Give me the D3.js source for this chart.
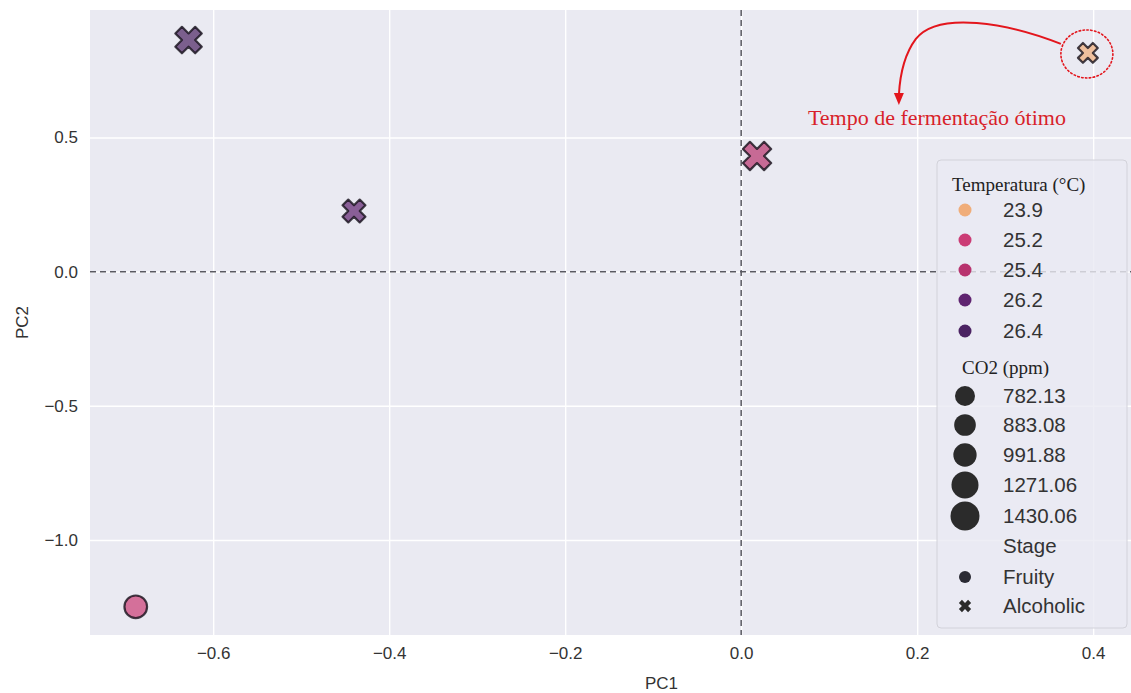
<!DOCTYPE html>
<html>
<head>
<meta charset="utf-8">
<script src="https://cdn.jsdelivr.net/npm/d3@7"></script>
<style>
  html, body { margin: 0; padding: 0; background: #ffffff; }
  svg { display: block; }
</style>
</head>
<body>
<svg id="chart" width="1131" height="693"></svg>
<script>
// PCA scores of the fermentation samples
const pc1 = [-0.628, -0.440, 0.018, 0.394, -0.688];
const pc2 = [0.863, 0.226, 0.431, 0.815, -1.249];
const temperature = [26.4, 26.2, 25.4, 23.9, 25.2];
const co2 = [1271.06, 991.88, 1430.06, 782.13, 883.08];
const stage = ["Alcoholic", "Alcoholic", "Alcoholic", "Alcoholic", "Fruity"];

// legend levels
const tempLevels = [23.9, 25.2, 25.4, 26.2, 26.4];
const tempColors = ["#f0ad79", "#cb3c75", "#b8336e", "#5f2470", "#4b2362"];
const co2Levels = [782.13, 883.08, 991.88, 1271.06, 1430.06];
const stageLevels = ["Fruity", "Alcoholic"];

const xTicks = [-0.6, -0.4, -0.2, 0.0, 0.2, 0.4];
const yTicks = [-1.0, -0.5, 0.0, 0.5];

const W = 1131, H = 693;
const plot = { left: 90, top: 10, right: 1131, bottom: 635 };

const svg = d3.select("#chart");

const x = d3.scaleLinear().domain([-0.740, 0.443]).range([plot.left, plot.right]);
const y = d3.scaleLinear().domain([-1.354, 0.975]).range([plot.bottom, plot.top]);
const color = d3.scaleOrdinal().domain(tempLevels).range(tempColors);
// marker area grows linearly with CO2
const area = d3.scaleLinear().domain([782.13, 1430.06]).range([21 * 21, 30 * 30]);
const diam = v => Math.sqrt(area(v));

// filled "X": a plus sign rotated by 45 degrees
function xPath(cx, cy, d) {
  const pts = [[-1,-3],[1,-3],[1,-1],[3,-1],[3,1],[1,1],[1,3],[-1,3],[-1,1],[-3,1],[-3,-1],[-1,-1]];
  const c = Math.SQRT1_2;
  const p = d3.path();
  pts.forEach(([a, b], i) => {
    const u = a / 6 * d, v = b / 6 * d;
    const px = cx + (u * c - v * c), py = cy + (u * c + v * c);
    if (i === 0) p.moveTo(px, py); else p.lineTo(px, py);
  });
  p.closePath();
  return p.toString();
}

const sans = "'Liberation Sans', Arial, sans-serif";
const serif = "'Liberation Serif', 'Times New Roman', serif";

// plot background
svg.append("rect")
  .attr("x", plot.left).attr("y", plot.top)
  .attr("width", plot.right - plot.left).attr("height", plot.bottom - plot.top)
  .attr("fill", "#eaeaf2");

// grid
svg.append("g")
  .attr("transform", `translate(0,${plot.bottom})`)
  .call(d3.axisBottom(x).tickValues(xTicks).tickSize(-(plot.bottom - plot.top)).tickFormat(""))
  .call(g => g.select(".domain").remove())
  .call(g => g.selectAll("line").attr("stroke", "#ffffff").attr("stroke-width", 1.4));
svg.append("g")
  .attr("transform", `translate(${plot.left},0)`)
  .call(d3.axisLeft(y).tickValues(yTicks).tickSize(-(plot.right - plot.left)).tickFormat(""))
  .call(g => g.select(".domain").remove())
  .call(g => g.selectAll("line").attr("stroke", "#ffffff").attr("stroke-width", 1.4));

// tick labels
const fmt = d3.format(".1f");
svg.append("g")
  .attr("transform", `translate(0,${plot.bottom})`)
  .call(d3.axisBottom(x).tickValues(xTicks).tickSize(0).tickPadding(12).tickFormat(d => fmt(d).replace("-", "\u2212")))
  .call(g => g.select(".domain").remove())
  .call(g => g.selectAll("text").attr("fill", "#333").style("font-family", sans).style("font-size", "17px"));
svg.append("g")
  .attr("transform", `translate(${plot.left},0)`)
  .call(d3.axisLeft(y).tickValues(yTicks).tickSize(0).tickPadding(12).tickFormat(d => fmt(d).replace("-", "\u2212")))
  .call(g => g.select(".domain").remove())
  .call(g => g.selectAll("text").attr("fill", "#333").style("font-family", sans).style("font-size", "17px"));

// axis titles
svg.append("text")
  .attr("x", (plot.left + plot.right) / 2 + 51).attr("y", 689)
  .attr("text-anchor", "middle").attr("fill", "#333")
  .style("font-family", sans).style("font-size", "17px").text("PC1");
svg.append("text")
  .attr("transform", `translate(28,${(plot.top + plot.bottom) / 2}) rotate(-90)`)
  .attr("text-anchor", "middle").attr("fill", "#333")
  .style("font-family", sans).style("font-size", "17px").text("PC2");

// reference lines at the origin
svg.append("line")
  .attr("x1", x(0)).attr("x2", x(0)).attr("y1", plot.top).attr("y2", plot.bottom)
  .attr("stroke", "#5a5a62").attr("stroke-width", 1.5).attr("stroke-dasharray", "6,4");
svg.append("line")
  .attr("x1", plot.left).attr("x2", plot.right).attr("y1", y(0)).attr("y2", y(0))
  .attr("stroke", "#5a5a62").attr("stroke-width", 1.5).attr("stroke-dasharray", "6,4");

// points
const data = pc1.map((v, i) => ({ pc1: v, pc2: pc2[i], t: temperature[i], c: co2[i], s: stage[i] }));
const pts = svg.append("g");
data.forEach(d => {
  const cx = x(d.pc1), cy = y(d.pc2), dm = diam(d.c);
  const el = d.s === "Fruity"
    ? pts.append("circle").attr("cx", cx).attr("cy", cy).attr("r", dm / 2)
    : pts.append("path").attr("d", xPath(cx, cy, dm));
  el.attr("fill", color(d.t)).attr("fill-opacity", 0.7)
    .attr("stroke", "#15101a").attr("stroke-opacity", 0.8)
    .attr("stroke-width", 2.2).attr("stroke-linejoin", "round");
});

// annotation around the optimal sample
const best = data[3];
const bx = x(best.pc1), by = y(best.pc2);
const red = "#e3161d";
svg.append("ellipse")
  .attr("cx", bx - 1).attr("cy", by + 1).attr("rx", 26).attr("ry", 24)
  .attr("fill", "none").attr("stroke", red).attr("stroke-width", 1.6)
  .attr("stroke-dasharray", "1.5,2.4").attr("stroke-linecap", "round");
const ap = d3.path();
ap.moveTo(bx - 27, by - 9);
ap.bezierCurveTo(bx - 80, by - 30, bx - 150, by - 42, bx - 172, by - 14);
ap.bezierCurveTo(bx - 184, by + 2, bx - 188, by + 24, bx - 189, by + 42);
svg.append("path").attr("d", ap.toString())
  .attr("fill", "none").attr("stroke", red).attr("stroke-width", 2);
svg.append("path")
  .attr("d", `M${bx - 194},${by + 40} L${bx - 189},${by + 52} L${bx - 184},${by + 40} Z`)
  .attr("fill", red);
svg.append("text")
  .attr("x", bx - 280).attr("y", by + 72)
  .attr("fill", "#d81f2a")
  .style("font-family", serif).style("font-size", "22px")
  .text("Tempo de fermentação ótimo");

// legend
const lg = svg.append("g");
lg.append("rect")
  .attr("x", 937).attr("y", 160).attr("width", 190).attr("height", 468)
  .attr("rx", 4).attr("fill", "#eaeaf2").attr("fill-opacity", 0.8)
  .attr("stroke", "#d2d2da").attr("stroke-width", 1);

const mx = 965, tx = 1003;
const title = (yy, txt, xx) => lg.append("text")
  .attr("x", xx).attr("y", yy).attr("dy", "0.35em").attr("fill", "#222")
  .style("font-family", serif).style("font-size", "19px").text(txt);
const label = (yy, txt) => lg.append("text")
  .attr("x", tx).attr("y", yy).attr("dy", "0.36em").attr("fill", "#333")
  .style("font-family", sans).style("font-size", "20.5px").text(txt);

title(184, "Temperatura (\u00b0C)", 952);
const tempRows = [210, 240, 270, 300, 331];
tempLevels.forEach((t, i) => {
  lg.append("circle").attr("cx", mx).attr("cy", tempRows[i]).attr("r", 6.5).attr("fill", color(t));
  label(tempRows[i], String(t));
});

title(367, "CO2 (ppm)", 962);
const co2Rows = [396, 425, 455, 485, 516];
co2Levels.forEach((c, i) => {
  lg.append("circle").attr("cx", mx).attr("cy", co2Rows[i]).attr("r", diam(c) / 2 - 0.5).attr("fill", "#2b2b2b");
  label(co2Rows[i], c.toFixed(2));
});

label(546, "Stage");
const stageRows = [577, 606];
stageLevels.forEach((s, i) => {
  if (s === "Fruity") {
    lg.append("circle").attr("cx", mx).attr("cy", stageRows[i]).attr("r", 6).attr("fill", "#2a2a33");
  } else {
    lg.append("path").attr("d", xPath(mx, stageRows[i], 13)).attr("fill", "#2a2a2a");
  }
  label(stageRows[i], s);
});
</script>
</body>
</html>
